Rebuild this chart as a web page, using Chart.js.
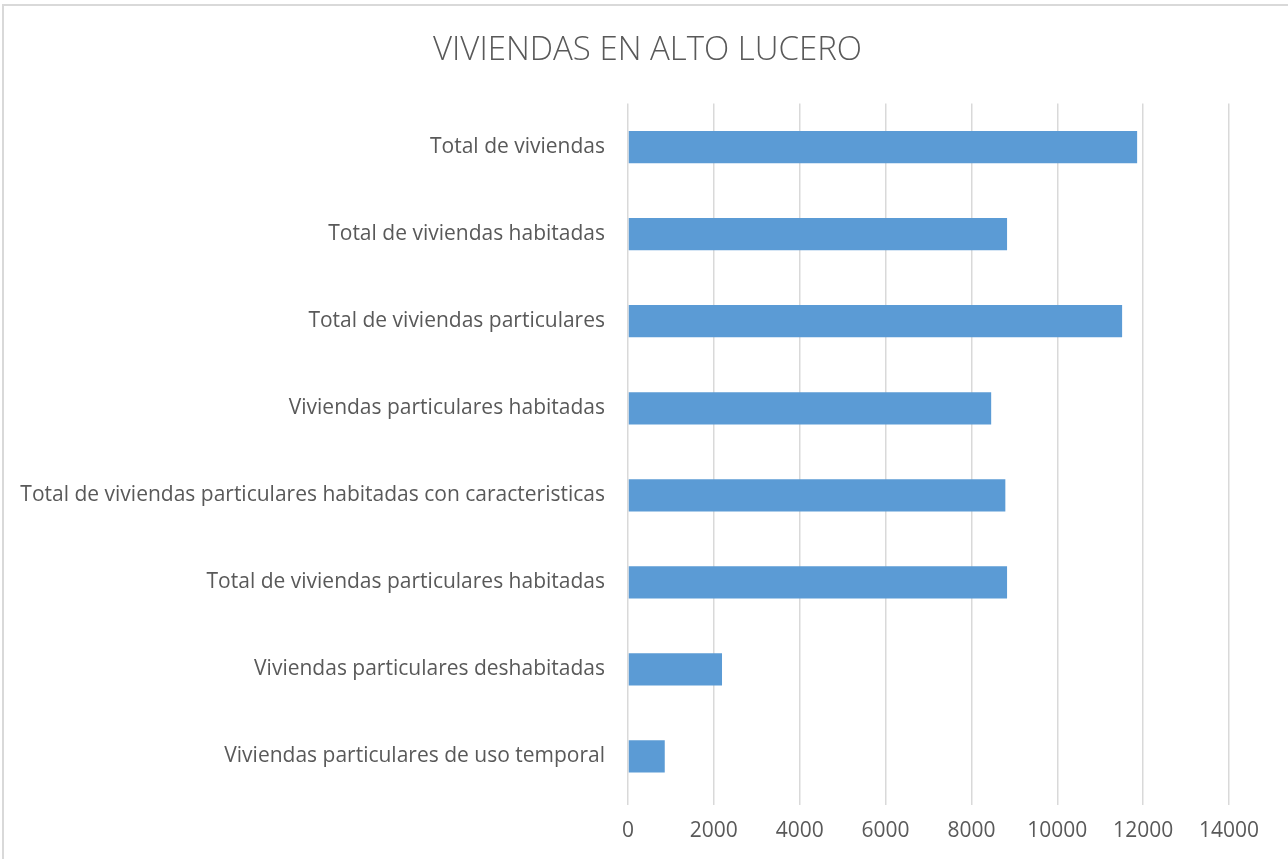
<!DOCTYPE html>
<html>
<head>
<meta charset="utf-8">
<script src="https://cdn.jsdelivr.net/npm/chart.js@4"></script>
<style>
  html, body { margin: 0; padding: 0; background: #fff; overflow: hidden; }
  #wrap { position: relative; width: 1288px; height: 859px; }
  #frame { position: absolute; left: 2px; top: 4px; width: 1300px; height: 900px;
           border: 2px solid #d9d9d9; box-sizing: border-box; pointer-events: none; }
</style>
</head>
<body>
<div id="wrap">
  <canvas id="chart" width="1288" height="859"></canvas>
  <div id="frame"></div>
</div>
<script>
let categories = [
    'Total de viviendas',
    'Total de viviendas habitadas',
    'Total de viviendas particulares',
    'Viviendas particulares habitadas',
    'Total de viviendas particulares habitadas con caracteristicas',
    'Total de viviendas particulares habitadas',
    'Viviendas particulares deshabitadas',
    'Viviendas particulares de uso temporal'
]
let values = [11860, 8830, 11510, 8460, 8790, 8830, 2190, 856]
let xTicks = [0, 2000, 4000, 6000, 8000, 10000, 12000, 14000]

const textColor = '#595959'
const gridColor = '#d9d9d9'
const fontName = "'Open Sans', sans-serif"

// long category label runs past the y axis box, so let it draw to the canvas edge
const unclipLabels = {
    id: 'unclipLabels',
    beforeDraw(chart) {
        chart.scales.y.left = 0
    }
}

const ctx = document.getElementById('chart').getContext('2d')

let myChart = new Chart(ctx, {
    type: 'bar',
    data: {
        labels: categories,
        datasets: [{
            label: 'Viviendas',
            data: values,
            backgroundColor: '#5b9bd5',
            borderWidth: 0,
            barPercentage: 0.37,
            categoryPercentage: 1
        }]
    },
    options: {
        indexAxis: 'y',
        responsive: false,
        animation: false,
        layout: {
            padding: { left: 66, right: 59, top: 0, bottom: 0 }
        },
        scales: {
            x: {
                min: xTicks[0],
                max: xTicks[xTicks.length - 1],
                afterBuildTicks: function(scale) {
                    scale.ticks = xTicks.map(v => ({ value: v }))
                },
                afterFit: function(scale) { scale.height = 59 },
                border: { display: false },
                grid: {
                    color: gridColor,
                    lineWidth: 1.5,
                    drawTicks: true,
                    tickLength: 5,
                    tickColor: gridColor
                },
                ticks: {
                    color: textColor,
                    padding: 13,
                    maxRotation: 0,
                    font: { family: fontName, size: 21 },
                    callback: function(value) { return String(value) }
                }
            },
            y: {
                afterFit: function(scale) { scale.width = 628 - 66 },
                border: { display: false },
                grid: { display: false, drawTicks: false },
                ticks: {
                    color: textColor,
                    padding: 23,
                    autoSkip: false,
                    font: { family: fontName, size: 21 }
                }
            }
        },
        plugins: {
            legend: { display: false },
            tooltip: { enabled: false },
            title: {
                display: true,
                text: 'VIVIENDAS EN ALTO LUCERO',
                color: textColor,
                font: { family: fontName, size: 33, weight: 300, lineHeight: 1.2 },
                padding: { top: 31, bottom: 33 }
            }
        }
    },
    plugins: [unclipLabels]
})
</script>
</body>
</html>
